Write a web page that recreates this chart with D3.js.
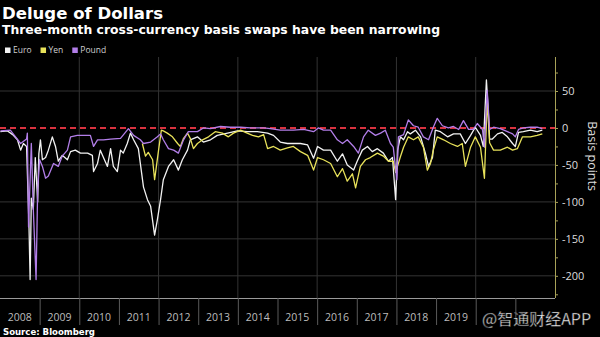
<!DOCTYPE html>
<html>
<head>
<meta charset="utf-8">
<script src="https://cdn.jsdelivr.net/npm/d3@7"></script>
<style>
  html, body { margin: 0; padding: 0; background: #000; }
  svg { display: block; }
  text { font-family: "Open Sans", "DejaVu Sans", sans-serif; }
</style>
</head>
<body>
<script>
// decimal year, basis points
const euro = [
  [2008.01, -5], [2008.19, -4], [2008.32, -9], [2008.44, -16], [2008.52, -30], [2008.59, -21],
  [2008.67, -25], [2008.73, -130], [2008.76, -205], [2008.79, -95], [2008.84, -110], [2008.89, -40],
  [2008.95, -100], [2008.98, -35], [2009.02, -16], [2009.07, -43], [2009.15, -40], [2009.22, -30],
  [2009.32, -12], [2009.40, -25], [2009.47, -45], [2009.57, -37], [2009.70, -43], [2009.78, -32],
  [2009.90, -30], [2010.03, -34], [2010.21, -34], [2010.33, -37], [2010.36, -59], [2010.46, -48],
  [2010.53, -30], [2010.61, -40], [2010.71, -52], [2010.79, -28], [2010.86, -52], [2010.96, -59],
  [2011.04, -30], [2011.11, -34], [2011.21, -21], [2011.29, -7], [2011.37, -16], [2011.49, -28],
  [2011.62, -80], [2011.72, -97], [2011.80, -106], [2011.90, -145], [2011.97, -124], [2012.05, -97],
  [2012.12, -70], [2012.25, -52], [2012.38, -43], [2012.50, -57], [2012.60, -43], [2012.73, -30],
  [2012.80, -16], [2012.98, -12], [2013.13, -19], [2013.31, -16], [2013.48, -10], [2013.74, -7],
  [2013.99, -4], [2014.24, -5], [2014.49, -5], [2014.75, -7], [2014.90, -10], [2015.07, -19],
  [2015.25, -21], [2015.58, -21], [2015.76, -23], [2015.91, -41], [2016.01, -25], [2016.16, -30],
  [2016.34, -30], [2016.51, -45], [2016.64, -35], [2016.76, -50], [2016.92, -57], [2017.01, -45],
  [2017.14, -30], [2017.27, -25], [2017.39, -32], [2017.52, -28], [2017.67, -34], [2017.80, -45],
  [2017.90, -40], [2017.98, -97], [2018.03, -30], [2018.10, -12], [2018.18, -16], [2018.28, -5],
  [2018.35, -8], [2018.48, -3], [2018.61, -12], [2018.73, -34], [2018.81, -52], [2018.91, -40],
  [2018.98, -3], [2019.11, -5], [2019.29, -12], [2019.44, -8], [2019.61, -8], [2019.74, -21],
  [2019.87, -10], [2019.99, 1], [2020.12, -10], [2020.19, -25], [2020.27, 65], [2020.32, 20],
  [2020.35, -15], [2020.42, -15], [2020.55, -8], [2020.67, -6], [2020.80, -12], [2020.93, -21],
  [2021.00, -25], [2021.08, -6], [2021.20, -5], [2021.38, -3], [2021.55, -5], [2021.68, -3]
];

const yen = [
  [2011.59, -21], [2011.67, -38], [2011.74, -33], [2011.85, -43], [2011.90, -70], [2011.95, -50],
  [2012.00, -30], [2012.07, -3], [2012.12, -4], [2012.22, -7], [2012.35, -12], [2012.48, -21],
  [2012.55, -25], [2012.63, -14], [2012.73, -7], [2012.80, -14], [2012.88, -28], [2012.98, -21],
  [2013.11, -16], [2013.26, -12], [2013.43, -5], [2013.61, -7], [2013.76, -12], [2013.89, -7],
  [2014.07, -3], [2014.19, -6], [2014.37, -10], [2014.52, -12], [2014.65, -9], [2014.75, -28],
  [2014.90, -25], [2015.07, -30], [2015.25, -27], [2015.40, -25], [2015.58, -32], [2015.76, -37],
  [2015.91, -57], [2016.01, -40], [2016.16, -43], [2016.34, -48], [2016.51, -66], [2016.64, -55],
  [2016.76, -72], [2016.89, -62], [2016.97, -81], [2017.09, -52], [2017.22, -43], [2017.34, -40],
  [2017.52, -34], [2017.67, -38], [2017.80, -45], [2017.92, -45], [2017.98, -60], [2018.10, -39],
  [2018.18, -26], [2018.30, -12], [2018.43, -16], [2018.55, -12], [2018.68, -26], [2018.78, -57],
  [2018.86, -48], [2018.93, -30], [2019.03, -12], [2019.19, -16], [2019.36, -21], [2019.54, -25],
  [2019.66, -21], [2019.74, -52], [2019.87, -26], [2019.99, -12], [2020.12, -26], [2020.22, -68],
  [2020.29, 38], [2020.35, -20], [2020.45, -30], [2020.62, -30], [2020.80, -26], [2020.93, -30],
  [2021.05, -28], [2021.18, -12], [2021.38, -12], [2021.55, -10], [2021.68, -8]
];

const pound = [
  [2008.01, -4], [2008.26, -3], [2008.52, -21], [2008.67, -15], [2008.69, -7], [2008.72, -134],
  [2008.74, -100], [2008.79, -21], [2008.84, -110], [2008.91, -205], [2008.95, -84], [2009.00, -43],
  [2009.07, -52], [2009.15, -68], [2009.22, -65], [2009.35, -48], [2009.47, -52], [2009.57, -38],
  [2009.70, -30], [2009.78, -12], [2009.95, -10], [2010.28, -10], [2010.36, -25], [2010.46, -16],
  [2010.61, -16], [2010.79, -15], [2011.04, -14], [2011.24, -1], [2011.37, -10], [2011.54, -16],
  [2011.62, -21], [2011.80, -19], [2011.97, -12], [2012.05, -8], [2012.12, -16], [2012.25, -28],
  [2012.38, -30], [2012.50, -34], [2012.63, -16], [2012.75, -5], [2012.98, -5], [2013.13, 0],
  [2013.31, -1], [2013.56, 2], [2013.81, 1], [2014.07, 1], [2014.32, 0], [2014.65, 0],
  [2014.82, -1], [2015.07, -3], [2015.40, -3], [2015.66, -2], [2015.91, -5], [2016.03, 0],
  [2016.16, -3], [2016.34, -3], [2016.51, -16], [2016.64, -21], [2016.76, -16], [2016.92, -25],
  [2017.04, -34], [2017.17, -12], [2017.29, -3], [2017.47, -10], [2017.60, -7], [2017.72, -3],
  [2017.85, -21], [2017.92, -26], [2018.01, -70], [2018.05, -12], [2018.18, -9], [2018.30, 11],
  [2018.43, 3], [2018.55, 1], [2018.68, -12], [2018.81, -16], [2018.93, 1], [2019.03, 13],
  [2019.16, 3], [2019.31, 0], [2019.44, 2], [2019.57, -2], [2019.69, 10], [2019.82, -2],
  [2019.94, -2], [2020.04, 6], [2020.17, -2], [2020.22, -26], [2020.29, 51], [2020.35, -2],
  [2020.45, 1], [2020.62, -1], [2020.80, -5], [2020.93, -8], [2021.00, -12], [2021.08, -2],
  [2021.20, 0], [2021.38, 1], [2021.55, 1], [2021.68, -1]
];

const seriesNames = ['Euro', 'Yen', 'Pound'];
const seriesColors = ['#f2f2f2', '#e8e25a', '#b27ee8'];
const yearLabels = [2008, 2009, 2010, 2011, 2012, 2013, 2014, 2015, 2016, 2017, 2018, 2019];
const yTicks = [50, 0, -50, -100, -150, -200];

const W = 600, H = 337;
const plot = { left: 0, right: 555, top: 57, bottom: 298 };

const svg = d3.select('body').append('svg')
    .attr('width', W)
    .attr('height', H);

svg.append('rect').attr('width', W).attr('height', H).attr('fill', '#000');

const x = d3.scaleLinear()
    .domain([2008, 2022])
    .range([plot.left, plot.right]);

const y = d3.scaleLinear()
    .domain([-230, 96])
    .range([plot.bottom, plot.top]);

// horizontal grid
svg.append('g')
    .selectAll('line')
    .data(yTicks.filter(d => d !== 0))
    .enter().append('line')
    .attr('x1', plot.left).attr('x2', plot.right)
    .attr('y1', d => y(d)).attr('y2', d => y(d))
    .attr('stroke', '#333').attr('stroke-width', 1);

// vertical grid every two years
svg.append('g')
    .selectAll('line')
    .data([2010, 2012, 2014, 2016, 2018, 2020])
    .enter().append('line')
    .attr('x1', d => x(d)).attr('x2', d => x(d))
    .attr('y1', plot.top).attr('y2', plot.bottom)
    .attr('stroke', '#333').attr('stroke-width', 1);

// bottom axis with year separators
const xAxis = svg.append('g')
    .attr('transform', `translate(0, ${plot.bottom})`)
    .call(d3.axisBottom(x)
        .tickValues(d3.range(2009, 2022))
        .tickSize(27)
        .tickFormat(''));
xAxis.select('.domain').attr('stroke', '#9a9a9a').attr('d', `M${plot.left},0.5H${plot.right}`);
xAxis.selectAll('.tick line').attr('stroke', '#5a5a5a');

svg.append('g')
    .selectAll('text')
    .data(yearLabels)
    .enter().append('text')
    .attr('x', d => x(d + 0.5))
    .attr('y', 321)
    .attr('text-anchor', 'middle')
    .attr('fill', '#bdbdbd')
    .style('font-size', '10.5px')
    .text(d => d);

// right axis
const yAxis = svg.append('g')
    .attr('transform', `translate(${plot.right}, 0)`)
    .call(d3.axisRight(y)
        .tickValues(d3.range(-225, 96, 25))
        .tickSize(3)
        .tickFormat(''));
yAxis.select('.domain').attr('stroke', '#a8a258').attr('d', `M0.5,${plot.top}V${plot.bottom}`);
yAxis.selectAll('.tick line').attr('stroke', '#a8a258');

svg.append('g')
    .selectAll('text')
    .data(yTicks)
    .enter().append('text')
    .attr('x', plot.right + 7)
    .attr('y', d => y(d) + 4)
    .attr('fill', '#dcdcdc')
    .style('font-size', '11px')
    .text(d => d);

svg.append('text')
    .attr('transform', `translate(588, ${y(-38)}) rotate(90)`)
    .attr('text-anchor', 'middle')
    .attr('fill', '#dcdcdc')
    .style('font-size', '12.5px')
    .text('Basis points');

// zero line
svg.append('line')
    .attr('x1', plot.left).attr('x2', plot.right)
    .attr('y1', y(0)).attr('y2', y(0))
    .attr('stroke', '#d8323f')
    .attr('stroke-width', 2)
    .attr('stroke-dasharray', '6,4');

// series lines
const line = d3.line()
    .x(d => x(d[0]))
    .y(d => y(d[1]));

[euro, yen, pound].forEach((data, i) => {
    svg.append('path')
        .datum(data)
        .attr('fill', 'none')
        .attr('stroke', seriesColors[i])
        .attr('stroke-width', 1.3)
        .attr('stroke-linejoin', 'round')
        .attr('d', line);
});

// titles
svg.append('text')
    .attr('x', 2).attr('y', 18.5)
    .attr('fill', '#fff')
    .attr('textLength', 161)
    .attr('lengthAdjust', 'spacingAndGlyphs')
    .style('font-family', '"DejaVu Sans", sans-serif')
    .style('font-size', '16.5px')
    .style('font-weight', 'bold')
    .text('Deluge of Dollars');

svg.append('text')
    .attr('x', 2).attr('y', 34)
    .attr('fill', '#fff')
    .attr('textLength', 438)
    .attr('lengthAdjust', 'spacingAndGlyphs')
    .style('font-family', '"DejaVu Sans", sans-serif')
    .style('font-size', '12.3px')
    .style('font-weight', 'bold')
    .text('Three-month cross-currency basis swaps have been narrowing');

// legend
const legend = svg.append('g').attr('transform', 'translate(5, 53)');
let lx = 0;
seriesNames.forEach((name, i) => {
    legend.append('rect')
        .attr('x', lx).attr('y', -5.5)
        .attr('width', 5.5).attr('height', 5.5)
        .attr('fill', seriesColors[i]);
    const t = legend.append('text')
        .attr('x', lx + 8).attr('y', 0)
        .attr('fill', '#cfcfcf')
        .style('font-size', '8.5px')
        .text(name);
    lx += 8 + t.node().getComputedTextLength() + 9;
});

svg.append('text')
    .attr('x', 3).attr('y', 335)
    .attr('fill', '#fff')
    .attr('textLength', 92)
    .attr('lengthAdjust', 'spacingAndGlyphs')
    .style('font-family', '"DejaVu Sans", sans-serif')
    .style('font-size', '8.8px')
    .style('font-weight', 'bold')
    .text('Source: Bloomberg');

// watermark
svg.append('text')
    .attr('x', 482).attr('y', 325)
    .attr('fill', '#ececec')
    .attr('stroke', '#222')
    .attr('stroke-width', 0.4)
    .style('font-family', '"Noto Sans CJK SC", "Noto Sans", sans-serif')
    .style('font-size', '16px')
    .text('@智通财经APP');
</script>
</body>
</html>
